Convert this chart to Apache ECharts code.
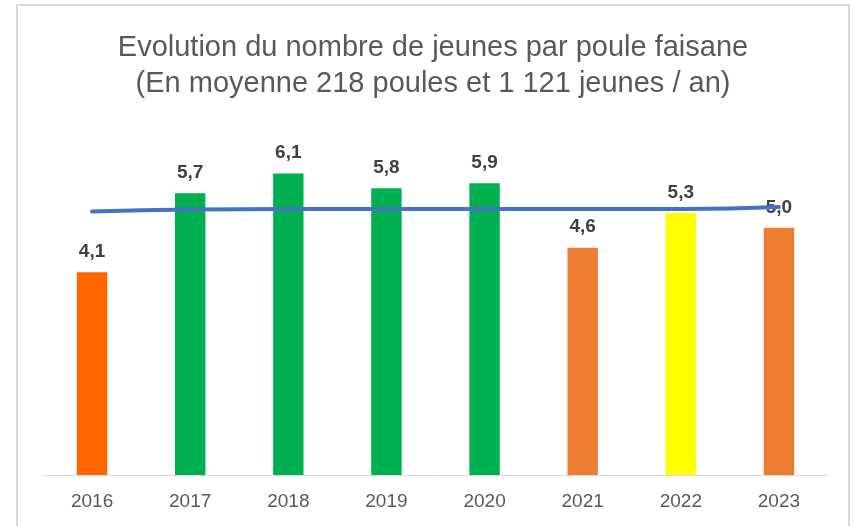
<!DOCTYPE html>
<html>
<head>
<meta charset="utf-8">
<script src="https://cdn.jsdelivr.net/npm/echarts@6/dist/echarts.min.js"></script>
<style>
    html, body { margin: 0; padding: 0; background: #fff; }
    #graphique { width: 854px; height: 526px; }
</style>
</head>
<body>
<div id="graphique"></div>
<script>
// donnees
var annees = ['2016', '2017', '2018', '2019', '2020', '2021', '2022', '2023'];
var jeunes_par_poule = [4.1, 5.7, 6.1, 5.8, 5.9, 4.6, 5.3, 5.0];
var couleurs_barres = ['#ff6600', '#00b050', '#00b050', '#00b050', '#00b050', '#ed7d31', '#ffff00', '#ed7d31'];
var ligne_moyenne = [5.33, 5.37, 5.38, 5.38, 5.38, 5.38, 5.38, 5.42];

var couleur_texte = '#595959';
var couleur_etiquette = '#404040';
var police = '"Liberation Sans", Arial, sans-serif';

var graphique = echarts.init(document.getElementById('graphique'));

var option = {
    animation: false,
    backgroundColor: '#ffffff',
    title: {
        text: 'Evolution du nombre de jeunes par poule faisane\n(En moyenne 218 poules et 1 121 jeunes / an)',
        left: 428,
        textAlign: 'center',
        top: 25,
        textStyle: {
            fontFamily: police,
            fontSize: 29,
            fontWeight: 'normal',
            color: couleur_texte,
            lineHeight: 36
        }
    },
    graphic: [{
        type: 'rect',
        shape: { x: 17, y: 5, width: 832, height: 540 },
        style: { fill: 'none', stroke: '#d9d9d9', lineWidth: 2 },
        silent: true
    }],
    grid: { left: 43, right: 26, top: 129, bottom: 51 },
    xAxis: {
        type: 'category',
        data: annees,
        axisTick: { show: false },
        axisLine: { lineStyle: { color: '#d9d9d9', width: 1 } },
        axisLabel: {
            color: couleur_texte,
            fontFamily: police,
            fontSize: 19,
            margin: 17
        }
    },
    yAxis: {
        type: 'value',
        min: 0,
        max: 7,
        show: false,
        splitLine: { show: false }
    },
    series: [
        {
            name: 'Jeunes / poule',
            type: 'bar',
            barWidth: '31%',
            data: jeunes_par_poule.map(function(v, i) {
                return { value: v, itemStyle: { color: couleurs_barres[i] } };
            }),
            label: {
                show: true,
                position: 'top',
                distance: 11,
                color: couleur_etiquette,
                fontFamily: police,
                fontSize: 19,
                fontWeight: 'bold',
                formatter: function(p) {
                    return p.value.toFixed(1).replace('.', ',');
                }
            }
        },
        {
            name: 'Moyenne',
            type: 'line',
            data: ligne_moyenne,
            smooth: true,
            symbol: 'none',
            lineStyle: { color: '#4472c4', width: 4, cap: 'round' },
            z: 3
        }
    ]
};

graphique.setOption(option);
</script>
</body>
</html>
